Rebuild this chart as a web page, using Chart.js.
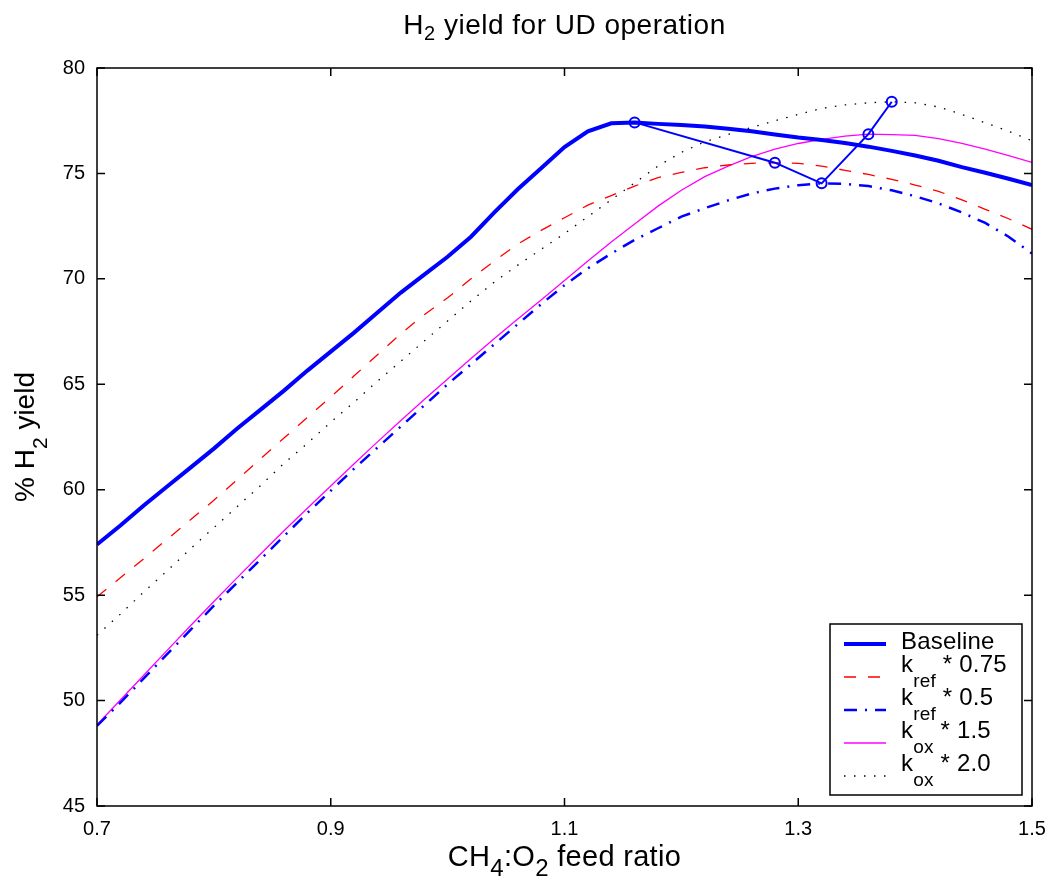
<!DOCTYPE html>
<html>
<head>
<meta charset="utf-8">
<title>H2 yield for UD operation</title>
<script src="https://cdn.jsdelivr.net/npm/chart.js@4.4.1/dist/chart.umd.min.js"></script>
<style>
  body { margin: 0; background: #fff; }
  #wrap { width: 1052px; height: 882px; }
</style>
</head>
<body>
<div id="wrap"><canvas id="yieldChart" width="1052" height="882"></canvas></div>
<script>
// feed ratio grid shared by every curve
const feedRatio = [0.70, 0.72, 0.74, 0.76, 0.78, 0.80, 0.82, 0.84, 0.86, 0.88,
                   0.90, 0.92, 0.94, 0.96, 0.98, 1.00, 1.02, 1.04, 1.06, 1.08,
                   1.10, 1.12, 1.14, 1.16, 1.18, 1.20, 1.22, 1.24, 1.26, 1.28,
                   1.30, 1.32, 1.34, 1.36, 1.38, 1.40, 1.42, 1.44, 1.46, 1.48, 1.50];

const baseline = [57.4, 58.3, 59.25, 60.15, 61.05, 61.95, 62.9, 63.8, 64.7, 65.65,
                  66.55, 67.45, 68.4, 69.35, 70.2, 71.05, 72.0, 73.15, 74.25, 75.25,
                  76.25, 77.0, 77.38, 77.42, 77.35, 77.3, 77.22, 77.12, 77.0, 76.85,
                  76.7, 76.58, 76.44, 76.27, 76.07, 75.85, 75.6, 75.3, 75.03, 74.75, 74.45];

const kref075 = [54.92, 55.82, 56.73, 57.65, 58.57, 59.5, 60.48, 61.47, 62.45, 63.43,
                 64.4, 65.4, 66.4, 67.4, 68.3, 69.1, 70.0, 70.85, 71.65, 72.3,
                 72.9, 73.5, 73.95, 74.4, 74.8, 75.05, 75.27, 75.4, 75.48, 75.51,
                 75.48, 75.35, 75.15, 74.95, 74.72, 74.45, 74.15, 73.75, 73.3, 72.85, 72.35];

const kref05 = [48.8, 49.9, 51.05, 52.2, 53.35, 54.5, 55.6, 56.7, 57.8, 58.9,
                59.95, 61.0, 62.0, 63.0, 64.0, 65.0, 65.95, 66.9, 67.85, 68.8,
                69.7, 70.5, 71.2, 71.85, 72.4, 72.95, 73.35, 73.72, 74.05, 74.28,
                74.44, 74.53, 74.5, 74.4, 74.2, 73.92, 73.58, 73.15, 72.65, 72.0, 71.2];

const kox15 = [48.85, 50.03, 51.2, 52.38, 53.55, 54.7, 55.83, 56.95, 58.05, 59.12,
               60.18, 61.23, 62.27, 63.28, 64.28, 65.25, 66.22, 67.17, 68.1, 69.0,
               69.92, 70.85, 71.75, 72.6, 73.45, 74.2, 74.85, 75.35, 75.8, 76.15,
               76.42, 76.62, 76.77, 76.86, 76.84, 76.8, 76.65, 76.42, 76.15, 75.85, 75.52];

const kox20 = [53.1, 54.1, 55.15, 56.15, 57.2, 58.2, 59.2, 60.2, 61.25, 62.2,
               63.2, 64.15, 65.15, 66.1, 67.05, 68.0, 68.95, 69.85, 70.65, 71.4,
               72.15, 72.95, 73.75, 74.55, 75.35, 76.0, 76.5, 76.85, 77.18, 77.5,
               77.8, 78.08, 78.25, 78.35, 78.4, 78.35, 78.15, 77.8, 77.4, 77.0, 76.55];

// maximum of each curve, joined by the thin marker line
const peakRatio = [1.16, 1.28, 1.32, 1.36, 1.38];
const peakYield = [77.42, 75.51, 74.53, 76.86, 78.4];

const seriesNames = ['Baseline', 'k_{ref} * 0.75', 'k_{ref} * 0.5', 'k_{ox} * 1.5', 'k_{ox} * 2.0'];

const xTicks = [0.7, 0.9, 1.1, 1.3, 1.5];
const yTicks = [45, 50, 55, 60, 65, 70, 75, 80];

const FONT = "'Liberation Sans', Arial, Helvetica, sans-serif";

function toPoints(xs, ys) {
    return xs.map((x, i) => ({ x: x, y: ys[i] }));
}

// "k_{ref} * 0.75" -> [{t:'k'}, {t:'ref', sub:true}, {t:' * 0.75'}]
function parseLabel(str) {
    const parts = [];
    const re = /_\{([^}]*)\}/g;
    let last = 0, m;
    while ((m = re.exec(str)) !== null) {
        if (m.index > last) parts.push({ t: str.slice(last, m.index) });
        parts.push({ t: m[1], sub: true });
        last = re.lastIndex;
    }
    if (last < str.length) parts.push({ t: str.slice(last) });
    return parts;
}

function drawRich(ctx, str, x, y, opt) {
    const parts = parseLabel(str);
    const main = opt.size + 'px ' + FONT;
    const small = opt.subSize + 'px ' + FONT;
    ctx.letterSpacing = (opt.spacing || 0) + 'px';
    let total = 0;
    parts.forEach(p => {
        ctx.font = p.sub ? small : main;
        p.w = ctx.measureText(p.t).width;
        total += p.w;
    });
    let cx = opt.align === 'center' ? x - total / 2 : x;
    ctx.textAlign = 'left';
    ctx.textBaseline = 'alphabetic';
    ctx.fillStyle = '#000';
    parts.forEach(p => {
        ctx.font = p.sub ? small : main;
        ctx.fillText(p.t, cx, y + (p.sub ? opt.subDrop : 0));
        cx += p.w;
    });
    ctx.letterSpacing = '0px';
}

// box around the axes, inward ticks, titles and the legend
const matlabFrame = {
    id: 'matlabFrame',
    afterDraw(chart) {
        const { ctx, chartArea: ca, scales } = chart;
        const xs = scales.x, ys = scales.y;
        ctx.save();

        ctx.strokeStyle = '#000';
        ctx.lineWidth = 1.5;
        ctx.setLineDash([]);
        ctx.strokeRect(ca.left, ca.top, ca.right - ca.left, ca.bottom - ca.top);

        const len = 8;
        ctx.beginPath();
        xTicks.forEach(v => {
            const px = xs.getPixelForValue(v);
            ctx.moveTo(px, ca.bottom); ctx.lineTo(px, ca.bottom - len);
            ctx.moveTo(px, ca.top); ctx.lineTo(px, ca.top + len);
        });
        yTicks.forEach(v => {
            const py = ys.getPixelForValue(v);
            ctx.moveTo(ca.left, py); ctx.lineTo(ca.left + len, py);
            ctx.moveTo(ca.right, py); ctx.lineTo(ca.right - len, py);
        });
        ctx.stroke();

        const midX = (ca.left + ca.right) / 2;
        const midY = (ca.top + ca.bottom) / 2;
        drawRich(ctx, 'H_{2} yield for UD operation', midX, 34,
                 { size: 28, subSize: 20, subDrop: 6, align: 'center', spacing: 0.5 });
        drawRich(ctx, 'CH_{4}:O_{2} feed ratio', midX, 866,
                 { size: 29, subSize: 24, subDrop: 10, align: 'center', spacing: 0.3 });
        ctx.save();
        ctx.translate(34, midY);
        ctx.rotate(-Math.PI / 2);
        drawRich(ctx, '% H_{2} yield', 0, 0,
                 { size: 28, subSize: 21, subDrop: 13, align: 'center' });
        ctx.restore();

        // legend
        const boxW = 192, boxH = 171;
        const bx = ca.right - 10 - boxW;
        const by = ca.bottom - 11 - boxH;
        ctx.fillStyle = '#fff';
        ctx.fillRect(bx, by, boxW, boxH);
        ctx.strokeStyle = '#000';
        ctx.lineWidth = 1.5;
        ctx.strokeRect(bx, by, boxW, boxH);

        chart.data.datasets.forEach(ds => {
            if (ds.legendRow === undefined) return;
            const ly = by + 20 + ds.legendRow * 33;
            ctx.save();
            ctx.strokeStyle = ds.borderColor;
            ctx.lineWidth = ds.borderWidth;
            ctx.setLineDash(ds.borderDash || []);
            ctx.beginPath();
            ctx.moveTo(bx + 14, ly);
            ctx.lineTo(bx + 56, ly);
            ctx.stroke();
            ctx.restore();
            const hasSub = ds.label.indexOf('_{') >= 0;
            drawRich(ctx, ds.label, bx + 71, ly + (hasSub ? -5 : 5),
                     { size: 24, subSize: 19, subDrop: 15, align: 'left', spacing: 0.2 });
        });

        ctx.restore();
    }
};

const ctx = document.getElementById('yieldChart').getContext('2d');

new Chart(ctx, {
    type: 'line',
    data: {
        datasets: [
            {
                label: '',
                data: toPoints(peakRatio, peakYield),
                borderColor: '#0000ff',
                borderWidth: 2,
                pointRadius: 5,
                pointBorderWidth: 2,
                pointBorderColor: '#0000ff',
                pointBackgroundColor: 'rgba(0,0,0,0)',
                order: 0
            },
            {
                label: seriesNames[0],
                legendRow: 0,
                data: toPoints(feedRatio, baseline),
                borderColor: '#0000ff',
                borderWidth: 4,
                pointRadius: 0,
                order: 1
            },
            {
                label: seriesNames[1],
                legendRow: 1,
                data: toPoints(feedRatio, kref075),
                borderColor: '#ff0000',
                borderWidth: 1.3,
                borderDash: [12, 12],
                pointRadius: 0,
                order: 2
            },
            {
                label: seriesNames[2],
                legendRow: 2,
                data: toPoints(feedRatio, kref05),
                borderColor: '#0000ff',
                borderWidth: 2.5,
                borderDash: [13, 8, 2, 8],
                pointRadius: 0,
                order: 3
            },
            {
                label: seriesNames[3],
                legendRow: 3,
                data: toPoints(feedRatio, kox15),
                borderColor: '#ff00ff',
                borderWidth: 1.3,
                pointRadius: 0,
                order: 4
            },
            {
                label: seriesNames[4],
                legendRow: 4,
                data: toPoints(feedRatio, kox20),
                borderColor: '#000000',
                borderWidth: 1.3,
                borderDash: [1.5, 8.5],
                pointRadius: 0,
                order: 5
            }
        ]
    },
    options: {
        responsive: false,
        animation: false,
        events: [],
        layout: { padding: { left: 0, right: 20, top: 68, bottom: 0 } },
        elements: { line: { tension: 0, fill: false } },
        scales: {
            x: {
                type: 'linear',
                min: 0.7,
                max: 1.5,
                grid: { display: false },
                border: { display: false },
                afterBuildTicks: scale => { scale.ticks = xTicks.map(v => ({ value: v })); },
                afterFit: scale => {
                    scale.height = 76;
                    scale.paddingLeft = 0;
                    scale.paddingRight = 0;
                },
                ticks: {
                    color: '#000',
                    padding: 3,
                    autoSkip: false,
                    maxRotation: 0,
                    font: { family: FONT, size: 20 },
                    callback: v => v.toFixed(1)
                }
            },
            y: {
                type: 'linear',
                min: 45,
                max: 80,
                grid: { display: false },
                border: { display: false },
                afterBuildTicks: scale => { scale.ticks = yTicks.map(v => ({ value: v })); },
                afterFit: scale => {
                    scale.width = 97;
                    scale.paddingTop = 0;
                    scale.paddingBottom = 0;
                },
                ticks: {
                    color: '#000',
                    padding: 4,
                    font: { family: FONT, size: 20 },
                    callback: v => String(v)
                }
            }
        },
        plugins: {
            legend: { display: false },
            tooltip: { enabled: false },
            title: { display: false }
        }
    },
    plugins: [matlabFrame]
});
</script>
</body>
</html>
